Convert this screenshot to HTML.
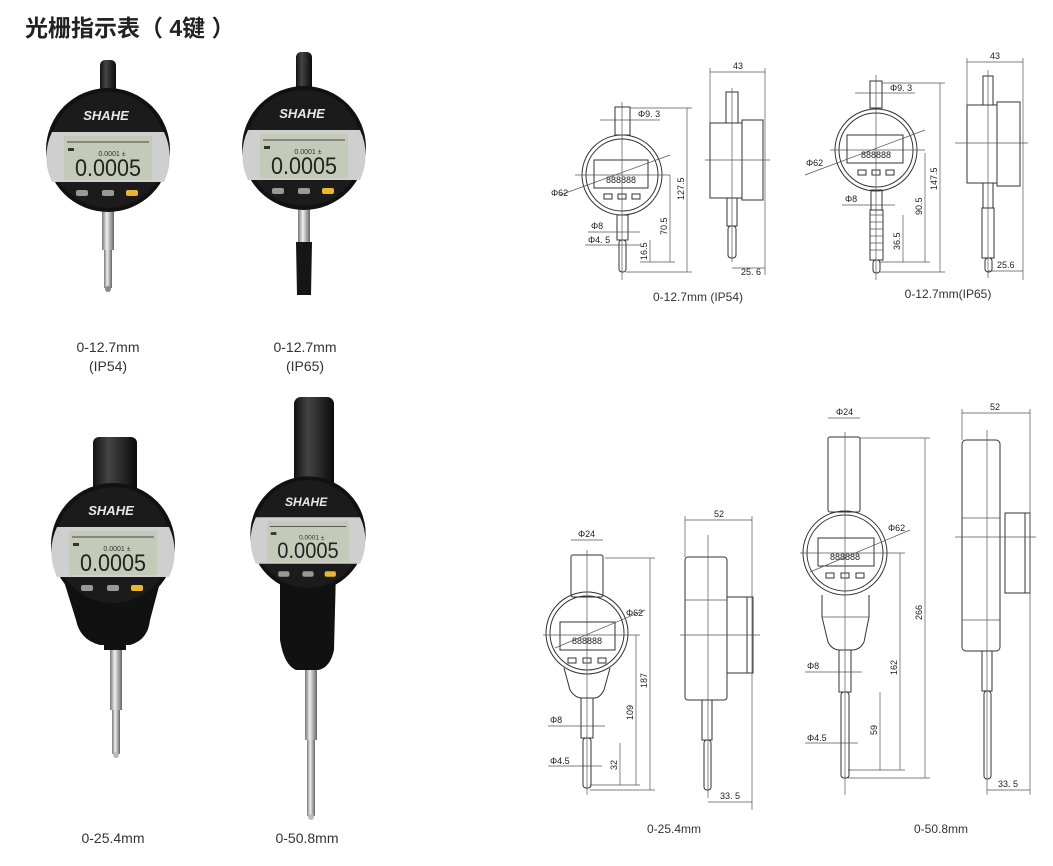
<!DOCTYPE html>
<html><head><meta charset="utf-8"><style>
html,body{margin:0;padding:0;background:#fff;}
svg{display:block}
.t{font-family:"Liberation Sans","Noto Sans CJK SC",sans-serif}
.d{fill:none;stroke:#333;stroke-width:1}
.c{stroke:#555;stroke-width:0.7}
.dt{font-family:"Liberation Sans",sans-serif;font-size:9px;fill:#222}
</style></head><body>
<svg width="1053" height="866" viewBox="0 0 1053 866" xmlns="http://www.w3.org/2000/svg">
<defs>
<linearGradient id="st" x1="0" x2="1"><stop offset="0" stop-color="#777"/><stop offset=".4" stop-color="#eee"/><stop offset="1" stop-color="#666"/></linearGradient>
<linearGradient id="bk" x1="0" x2="1"><stop offset="0" stop-color="#111"/><stop offset=".35" stop-color="#444"/><stop offset="1" stop-color="#0a0a0a"/></linearGradient>
<g id="face">
<circle r="62" fill="#111"/>
<circle r="58" fill="#1b1b1b"/>
<text x="-2" y="-30" text-anchor="middle" font-family="Liberation Sans,sans-serif" font-weight="bold" font-style="italic" font-size="13" fill="#e8e8e8">SHAHE</text>
<path d="M-56,-18 H56 A58,58 0 0 1 56,32 H-56 A58,58 0 0 1 -56,-18Z" fill="#cfcfcf"/>
<rect x="-44" y="-14" width="88" height="44" fill="#c3cbb8"/>
<line x1="-41" y1="-8" x2="41" y2="-8" stroke="#444" stroke-width="1"/>
<text x="4" y="6" text-anchor="middle" font-family="Liberation Sans,sans-serif" font-size="7" fill="#333">0.0001 ±</text>
<text x="0" y="26" text-anchor="middle" font-family="Liberation Sans,sans-serif" font-size="24" fill="#222" textLength="66" lengthAdjust="spacingAndGlyphs">0.0005</text>
<rect x="-40" y="-2" width="6" height="3" fill="#333"/>
<rect x="-32" y="40" width="12" height="6" rx="2" fill="#999"/>
<rect x="-6" y="40" width="12" height="6" rx="2" fill="#999"/>
<rect x="18" y="40" width="12" height="6" rx="2" fill="#e7b92a"/>
</g>
</defs>

<text x="25" y="36" class="t" font-size="23" font-weight="bold" fill="#222">光栅指示表（ 4键 ）</text>

<rect x="100" y="60" width="16" height="34" rx="5" fill="url(#bk)"/>
<rect x="102" y="210" width="12" height="40" fill="url(#st)"/>
<rect x="104" y="250" width="8" height="38" fill="url(#st)"/>
<ellipse cx="108" cy="289" rx="3" ry="3" fill="#888"/>
<use href="#face" x="108" y="150"/>
<rect x="296" y="52" width="16" height="40" rx="5" fill="url(#bk)"/>
<rect x="298" y="206" width="12" height="36" fill="url(#st)"/>
<path d="M296,242 H312 L311,295 H297Z" fill="#151515"/>
<use href="#face" x="304" y="148"/>
<text x="108" y="352" class="t" font-size="14" fill="#333" text-anchor="middle">0-12.7mm</text>
<text x="108" y="371" class="t" font-size="14" fill="#333" text-anchor="middle">(IP54)</text>
<text x="305" y="352" class="t" font-size="14" fill="#333" text-anchor="middle">0-12.7mm</text>
<text x="305" y="371" class="t" font-size="14" fill="#333" text-anchor="middle">(IP65)</text>

<rect x="93" y="437" width="44" height="60" rx="6" fill="url(#bk)"/>
<path d="M62,575 H162 L150,620 Q148,640 130,645 H100 Q80,640 76,620Z" fill="#111"/>
<rect x="104" y="640" width="22" height="10" fill="#111"/>
<rect x="110" y="650" width="12" height="60" fill="url(#st)"/>
<rect x="112" y="710" width="8" height="44" fill="url(#st)"/>
<ellipse cx="116" cy="755" rx="3" ry="3" fill="#bbb"/>
<use href="#face" x="113" y="545"/>
<rect x="294" y="397" width="40" height="100" rx="7" fill="url(#bk)"/>
<path d="M280,570 H336 L334,650 Q330,668 318,670 H296 Q284,665 280,640Z" fill="#111"/>
<rect x="305" y="670" width="12" height="70" fill="url(#st)"/>
<rect x="307" y="740" width="8" height="76" fill="url(#st)"/>
<ellipse cx="311" cy="817" rx="3" ry="3" fill="#bbb"/>
<use href="#face" x="308" y="534" transform="translate(308 534) scale(0.93) translate(-308 -534)"/>
<text x="113" y="843" class="t" font-size="14" fill="#333" text-anchor="middle">0-25.4mm</text>
<text x="307" y="843" class="t" font-size="14" fill="#333" text-anchor="middle">0-50.8mm</text>

<g>
<rect x="615" y="107" width="15" height="28" class="d"/>
<circle cx="622" cy="175" r="40" class="d"/><circle cx="622" cy="175" r="36" class="d"/>
<rect x="594" y="160" width="54" height="28" class="d"/>
<text x="621" y="183" class="dt" text-anchor="middle" font-size="10">888888</text>
<rect x="604" y="194" width="8" height="5" class="d"/><rect x="618" y="194" width="8" height="5" class="d"/><rect x="632" y="194" width="8" height="5" class="d"/>
<rect x="617" y="215" width="11" height="25" class="d"/>
<rect x="619" y="240" width="7" height="32" rx="3" class="d"/>
<line x1="622" y1="102" x2="622" y2="280" class="c"/><line x1="575" y1="175" x2="670" y2="175" class="c"/>
<line x1="600" y1="120" x2="660" y2="120" class="c"/><text x="638" y="117" class="dt">Φ9. 3</text>
<line x1="560" y1="195" x2="670" y2="155" class="c"/><text x="551" y="196" class="dt">Φ62</text>
<line x1="588" y1="232" x2="640" y2="232" class="c"/><text x="591" y="229" class="dt">Φ8</text>
<line x1="585" y1="245" x2="640" y2="245" class="c"/><text x="588" y="243" class="dt">Φ4. 5</text>
<line x1="687" y1="108" x2="687" y2="272" class="c"/><line x1="630" y1="108" x2="692" y2="108" class="c"/><line x1="626" y1="272" x2="692" y2="272" class="c"/>
<text transform="translate(684 200) rotate(-90)" class="dt">127.5</text>
<line x1="670" y1="175" x2="670" y2="262" class="c"/><text transform="translate(667 235) rotate(-90)" class="dt">70.5</text>
<line x1="650" y1="240" x2="650" y2="262" class="c"/><text transform="translate(647 260) rotate(-90)" class="dt">16.5</text>
<line x1="640" y1="262" x2="675" y2="262" class="c"/>
<rect x="726" y="92" width="12" height="31" class="d"/>
<rect x="710" y="123" width="32" height="75" class="d"/>
<rect x="742" y="120" width="21" height="80" class="d"/>
<rect x="727" y="198" width="10" height="28" class="d"/>
<rect x="728" y="226" width="8" height="32" rx="3" class="d"/>
<line x1="705" y1="160" x2="770" y2="160" class="c"/><line x1="732" y1="88" x2="732" y2="262" class="c"/>
<line x1="710" y1="72" x2="765" y2="72" class="c"/><line x1="710" y1="68" x2="710" y2="123" class="c"/><line x1="765" y1="68" x2="765" y2="275" class="c"/>
<text x="733" y="69" class="dt">43</text>
<line x1="732" y1="268" x2="765" y2="268" class="c"/><text x="741" y="275" class="dt">25. 6</text>
<text x="698" y="301" class="t" font-size="12" fill="#333" text-anchor="middle">0-12.7mm (IP54)</text>
</g>

<g>
<rect x="870" y="81" width="12" height="27" class="d"/>
<circle cx="876" cy="150" r="41" class="d"/><circle cx="876" cy="150" r="37" class="d"/>
<rect x="847" y="135" width="56" height="28" class="d"/>
<text x="876" y="158" class="dt" text-anchor="middle" font-size="10">888888</text>
<rect x="858" y="170" width="8" height="5" class="d"/><rect x="872" y="170" width="8" height="5" class="d"/><rect x="886" y="170" width="8" height="5" class="d"/>
<rect x="871" y="190" width="11" height="20" class="d"/>
<rect x="870" y="210" width="13" height="50" class="d"/>
<path d="M870,215 H883 M870,222 H883 M870,229 H883 M870,236 H883 M870,243 H883 M870,250 H883" class="c"/>
<rect x="873" y="260" width="7" height="13" rx="3" class="d"/>
<line x1="876" y1="75" x2="876" y2="280" class="c"/><line x1="830" y1="150" x2="925" y2="150" class="c"/>
<line x1="855" y1="93" x2="915" y2="93" class="c"/><text x="890" y="91" class="dt">Φ9. 3</text>
<line x1="805" y1="175" x2="925" y2="130" class="c"/><text x="806" y="166" class="dt">Φ62</text>
<line x1="842" y1="205" x2="895" y2="205" class="c"/><text x="845" y="202" class="dt">Φ8</text>
<line x1="940" y1="83" x2="940" y2="272" class="c"/><line x1="882" y1="83" x2="945" y2="83" class="c"/><line x1="880" y1="272" x2="945" y2="272" class="c"/>
<text transform="translate(937 190) rotate(-90)" class="dt">147.5</text>
<line x1="925" y1="153" x2="925" y2="262" class="c"/><text transform="translate(922 215) rotate(-90)" class="dt">90.5</text>
<line x1="903" y1="215" x2="903" y2="262" class="c"/><text transform="translate(900 250) rotate(-90)" class="dt">36.5</text>
<line x1="880" y1="262" x2="930" y2="262" class="c"/>
<rect x="983" y="76" width="10" height="29" class="d"/>
<rect x="967" y="105" width="30" height="78" class="d"/>
<rect x="997" y="102" width="23" height="84" class="d"/>
<rect x="983" y="183" width="10" height="25" class="d"/>
<rect x="982" y="208" width="12" height="50" class="d"/>
<rect x="985" y="258" width="7" height="14" rx="3" class="d"/>
<line x1="955" y1="143" x2="1028" y2="143" class="c"/><line x1="988" y1="70" x2="988" y2="278" class="c"/>
<line x1="967" y1="62" x2="1023" y2="62" class="c"/><line x1="967" y1="58" x2="967" y2="105" class="c"/><line x1="1023" y1="58" x2="1023" y2="280" class="c"/>
<text x="990" y="59" class="dt">43</text>
<line x1="988" y1="271" x2="1023" y2="271" class="c"/><text x="997" y="268" class="dt">25.6</text>
<text x="948" y="298" class="t" font-size="12" fill="#333" text-anchor="middle">0-12.7mm(IP65)</text>
</g>

<g>
<rect x="571" y="555" width="32" height="42" rx="2" class="d"/>
<circle cx="587" cy="633" r="41" class="d"/><circle cx="587" cy="633" r="37" class="d"/>
<rect x="560" y="622" width="55" height="28" class="d"/>
<text x="587" y="644" class="dt" text-anchor="middle" font-size="10">888888</text>
<rect x="568" y="658" width="8" height="5" class="d"/><rect x="583" y="658" width="8" height="5" class="d"/><rect x="598" y="658" width="8" height="5" class="d"/>
<path d="M564,668 L570,690 Q575,698 582,698 H594 Q600,698 604,690 L610,668" class="d"/>
<rect x="581" y="698" width="12" height="40" class="d"/>
<rect x="583" y="738" width="8" height="50" rx="3" class="d"/>
<line x1="587" y1="550" x2="587" y2="795" class="c"/><line x1="543" y1="635" x2="640" y2="635" class="c"/>
<line x1="571" y1="540" x2="603" y2="540" class="c"/><text x="578" y="537" class="dt">Φ24</text>
<line x1="555" y1="648" x2="645" y2="610" class="c"/><text x="626" y="616" class="dt">Φ62</text>
<line x1="548" y1="726" x2="605" y2="726" class="c"/><text x="550" y="723" class="dt">Φ8</text>
<line x1="548" y1="766" x2="602" y2="766" class="c"/><text x="550" y="764" class="dt">Φ4.5</text>
<line x1="650" y1="558" x2="650" y2="790" class="c"/><line x1="605" y1="558" x2="655" y2="558" class="c"/>
<text transform="translate(647 688) rotate(-90)" class="dt">187</text>
<line x1="636" y1="635" x2="636" y2="785" class="c"/><text transform="translate(633 720) rotate(-90)" class="dt">109</text>
<line x1="620" y1="743" x2="620" y2="785" class="c"/><text transform="translate(617 770) rotate(-90)" class="dt">32</text>
<line x1="590" y1="785" x2="640" y2="785" class="c"/><line x1="590" y1="790" x2="655" y2="790" class="c"/>
<rect x="685" y="557" width="42" height="143" rx="3" class="d"/>
<line x1="685" y1="600" x2="727" y2="600" class="c"/>
<rect x="727" y="597" width="20" height="76" class="d"/>
<rect x="747" y="597" width="6" height="76" class="d"/>
<rect x="702" y="700" width="10" height="40" class="d"/>
<rect x="704" y="740" width="7" height="50" rx="3" class="d"/>
<line x1="680" y1="635" x2="760" y2="635" class="c"/><line x1="708" y1="535" x2="708" y2="798" class="c"/>
<line x1="685" y1="520" x2="752" y2="520" class="c"/><line x1="685" y1="516" x2="685" y2="557" class="c"/><line x1="752" y1="516" x2="752" y2="810" class="c"/>
<text x="714" y="517" class="dt">52</text>
<line x1="708" y1="802" x2="752" y2="802" class="c"/><text x="720" y="799" class="dt">33. 5</text>
<text x="674" y="833" class="t" font-size="12" fill="#333" text-anchor="middle">0-25.4mm</text>
</g>

<g>
<rect x="828" y="437" width="32" height="75" rx="2" class="d"/>
<circle cx="845" cy="553" r="42" class="d"/><circle cx="845" cy="553" r="38" class="d"/>
<rect x="818" y="538" width="56" height="28" class="d"/>
<text x="845" y="560" class="dt" text-anchor="middle" font-size="10">888888</text>
<rect x="826" y="573" width="8" height="5" class="d"/><rect x="841" y="573" width="8" height="5" class="d"/><rect x="856" y="573" width="8" height="5" class="d"/>
<path d="M822,595 V617 L828,642 Q832,650 840,650 H852 Q860,650 864,642 L869,617 V595" class="d"/>
<line x1="822" y1="617" x2="869" y2="617" class="c"/>
<rect x="839" y="650" width="12" height="42" class="d"/>
<rect x="841" y="692" width="8" height="86" rx="3" class="d"/>
<line x1="845" y1="432" x2="845" y2="795" class="c"/><line x1="800" y1="553" x2="905" y2="553" class="c"/>
<line x1="828" y1="418" x2="860" y2="418" class="c"/><text x="836" y="415" class="dt">Φ24</text>
<line x1="810" y1="572" x2="910" y2="530" class="c"/><text x="888" y="531" class="dt">Φ62</text>
<line x1="805" y1="672" x2="862" y2="672" class="c"/><text x="807" y="669" class="dt">Φ8</text>
<line x1="805" y1="743" x2="858" y2="743" class="c"/><text x="807" y="741" class="dt">Φ4.5</text>
<line x1="925" y1="438" x2="925" y2="778" class="c"/><line x1="860" y1="438" x2="930" y2="438" class="c"/>
<text transform="translate(922 620) rotate(-90)" class="dt">266</text>
<line x1="900" y1="553" x2="900" y2="770" class="c"/><text transform="translate(897 675) rotate(-90)" class="dt">162</text>
<line x1="880" y1="692" x2="880" y2="770" class="c"/><text transform="translate(877 735) rotate(-90)" class="dt">59</text>
<line x1="848" y1="770" x2="905" y2="770" class="c"/><line x1="848" y1="778" x2="930" y2="778" class="c"/>
<rect x="962" y="440" width="38" height="211" rx="4" class="d"/>
<line x1="962" y1="518" x2="1000" y2="518" class="c"/><line x1="962" y1="620" x2="1000" y2="620" class="c"/>
<rect x="1005" y="513" width="20" height="80" class="d"/>
<rect x="1025" y="513" width="5" height="80" class="d"/>
<rect x="982" y="651" width="10" height="40" class="d"/>
<rect x="984" y="691" width="7" height="88" rx="3" class="d"/>
<line x1="955" y1="537" x2="1036" y2="537" class="c"/><line x1="987" y1="430" x2="987" y2="795" class="c"/>
<line x1="962" y1="413" x2="1030" y2="413" class="c"/><line x1="962" y1="409" x2="962" y2="440" class="c"/><line x1="1030" y1="409" x2="1030" y2="795" class="c"/>
<text x="990" y="410" class="dt">52</text>
<line x1="987" y1="790" x2="1030" y2="790" class="c"/><text x="998" y="787" class="dt">33. 5</text>
<text x="941" y="833" class="t" font-size="12" fill="#333" text-anchor="middle">0-50.8mm</text>
</g>
</svg>
</body></html>
